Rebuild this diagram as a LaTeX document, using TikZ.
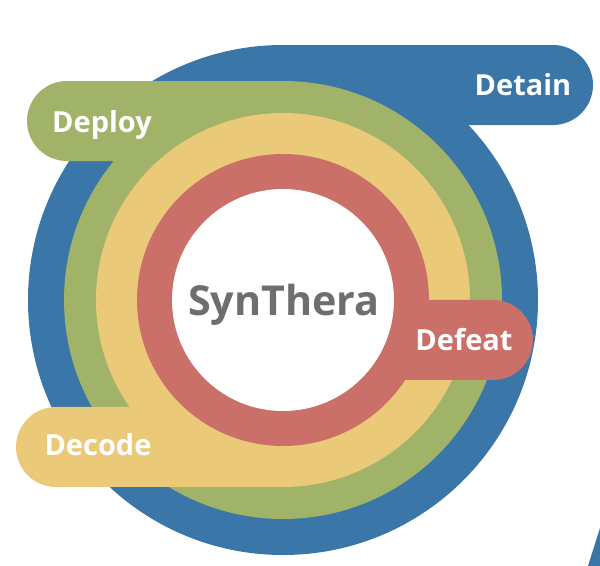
\documentclass[tikz,border=0pt]{standalone}
\usepackage{fontspec}
\setmainfont{Open Sans}
\usepackage{tikz}
\usepackage{xcolor}
\definecolor{ring-blue}{RGB}{58,119,168}
\definecolor{ring-green}{RGB}{160,179,104}
\definecolor{ring-yellow}{RGB}{234,201,121}
\definecolor{ring-red}{RGB}{203,112,105}
\definecolor{core-gray}{RGB}{110,110,110}

\begin{document}
\begin{tikzpicture}[
  x=0.02cm, y=0.02cm,
  tablabel/.style={anchor=base, text=white, font=\bfseries\fontsize{16.5}{18}\selectfont, inner sep=0pt},
]
  \useasboundingbox (0,0) rectangle (600,566);

  % Detain (outer ring)
  \fill[ring-blue] (283,266) circle (255);
  \fill[ring-blue] (283,521) -- (553,521) arc[start angle=90, end angle=-90, radius=40] -- (283,441) -- cycle;
  \fill[ring-blue] (588,0) -- (600,38) -- (600,0) -- cycle;

  % Deploy
  \fill[ring-green] (283,266) circle (219);
  \fill[ring-green] (283,485) -- (67,485) arc[start angle=90, end angle=270, radius=40] -- (283,405) -- cycle;

  % Decode
  \fill[ring-yellow] (283,266) circle (187);
  \fill[ring-yellow] (283,159) -- (56,159) arc[start angle=90, end angle=270, radius=40] -- (283,79) -- cycle;

  % Defeat
  \fill[ring-red] (283,266) circle (146);
  \fill[ring-red] (283,266) -- (493,266) arc[start angle=90, end angle=-90, radius=40] -- (283,186) -- cycle;

  % Core
  \fill[white] (283,266) circle (111);

  % Labels
  \node[tablabel] (detain) at (523,471) {Detain};
  \node[tablabel] (deploy) at (102,434) {Deploy};
  \node[tablabel] (decode) at (98,111) {Decode};
  \node[tablabel] (defeat) at (464,215) {Defeat};
  \node[anchor=base, text=core-gray, font=\bfseries\fontsize{23.5}{27}\selectfont, inner sep=0pt] (core) at (284,251) {SynThera};
\end{tikzpicture}
\end{document}
